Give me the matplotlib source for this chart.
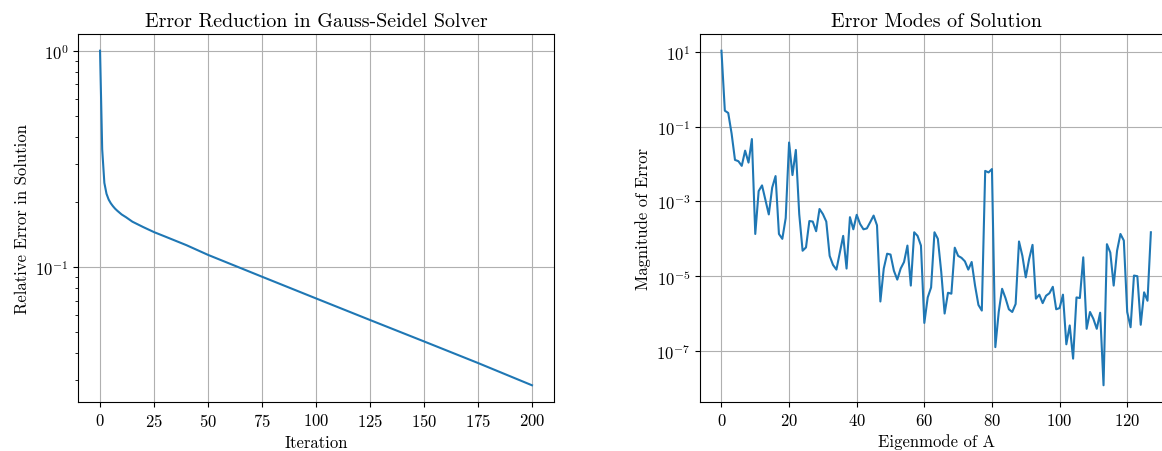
"""Gauss-Seidel error plots"""
#%%
import matplotlib
matplotlib.use("Agg")
import matplotlib.pyplot as plt
import numpy as np

plt.rcParams['font.family'] = ['cmr10', 'DejaVu Serif']
plt.rcParams['mathtext.fontset'] = 'cm'
plt.rcParams['axes.formatter.use_mathtext'] = True
plt.rcParams['font.size'] = 12

#%% data
# relative error vs iteration (left panel)
iterations = [0, 1, 2, 3, 4, 5, 6, 7, 8, 10, 12, 15, 20, 25, 30, 40, 50,
              75, 100, 125, 150, 175, 200]
rel_error = [1.0, 0.35, 0.245, 0.218, 0.205, 0.197, 0.191, 0.186, 0.182,
             0.175, 0.170, 0.162, 0.153, 0.145, 0.1385, 0.1262, 0.1138,
             0.0902, 0.0716, 0.0569, 0.0453, 0.0360, 0.0284]

# magnitude of error in each eigenmode of A (right panel)
mode_error = [
    10.9, 0.27, 0.235, 0.066, 0.013, 0.012, 0.009, 0.023, 0.011, 0.047,
    1.35e-4, 1.9e-3, 2.7e-3, 1.1e-3, 4.5e-4, 2.35e-3, 4.8e-3, 1.35e-4, 1.0e-4, 3.6e-4,
    0.038, 5.1e-3, 0.024, 4.6e-4, 4.8e-5, 5.9e-5, 3.0e-4, 2.9e-4, 1.6e-4, 6.3e-4,
    4.6e-4, 2.9e-4, 3.5e-5, 2.0e-5, 1.5e-5, 4.2e-5, 1.2e-4, 1.6e-5, 3.8e-4, 1.8e-4,
    4.4e-4, 2.5e-4, 1.8e-4, 1.9e-4, 2.8e-4, 4.2e-4, 2.3e-4, 2.1e-6, 1.6e-5, 4.0e-5,
    3.8e-5, 1.4e-5, 8.1e-6, 1.6e-5, 2.4e-5, 6.6e-5, 5.6e-6, 1.5e-4, 1.2e-4, 6.6e-5,
    5.6e-7, 2.7e-6, 5.0e-6, 1.5e-4, 1.0e-4, 1.3e-5, 1.0e-6, 3.6e-6, 3.4e-6, 5.8e-5,
    3.5e-5, 3.1e-5, 2.5e-5, 1.5e-5, 2.4e-5, 5.6e-6, 1.7e-6, 1.2e-6, 6.6e-3, 6.0e-3,
    7.4e-3, 1.26e-7, 1.1e-6, 4.6e-6, 2.6e-6, 1.3e-6, 1.1e-6, 1.8e-6, 8.5e-5, 3.5e-5,
    9.3e-6, 2.9e-5, 6.9e-5, 2.5e-6, 3.2e-6, 1.9e-6, 3.0e-6, 3.5e-6, 5.2e-6, 1.3e-6,
    1.4e-6, 3.2e-6, 1.5e-7, 4.8e-7, 6.2e-8, 2.7e-6, 2.6e-6, 3.2e-5, 3.9e-7, 1.1e-6,
    7.2e-7, 3.9e-7, 1.05e-6, 1.2e-8, 7.2e-5, 4.3e-5, 5.6e-6, 4.8e-5, 1.35e-4, 9.0e-5,
    1.1e-6, 4.3e-7, 1.04e-5, 1.0e-5, 5.0e-7, 3.7e-6, 2.2e-6, 1.5e-4,
]
modes = np.arange(len(mode_error))

#%% plot
fig = plt.figure(figsize=(11.62, 4.52), dpi=100)
ax1 = fig.add_axes([0.0675, 0.1084, 0.4089, 0.8142])
ax2 = fig.add_axes([0.6024, 0.1084, 0.4065, 0.8142])

ax1.semilogy(iterations, rel_error)
ax1.set_title('Error Reduction in Gauss-Seidel Solver')
ax1.set_xlabel('Iteration')
ax1.set_ylabel('Relative Error in Solution')
ax1.grid(True)

ax2.semilogy(modes, mode_error)
ax2.set_title('Error Modes of Solution')
ax2.set_xlabel('Eigenmode of A')
ax2.set_ylabel('Magnitude of Error')
ax2.grid(True)

fig.savefig('out.png', dpi=100)
